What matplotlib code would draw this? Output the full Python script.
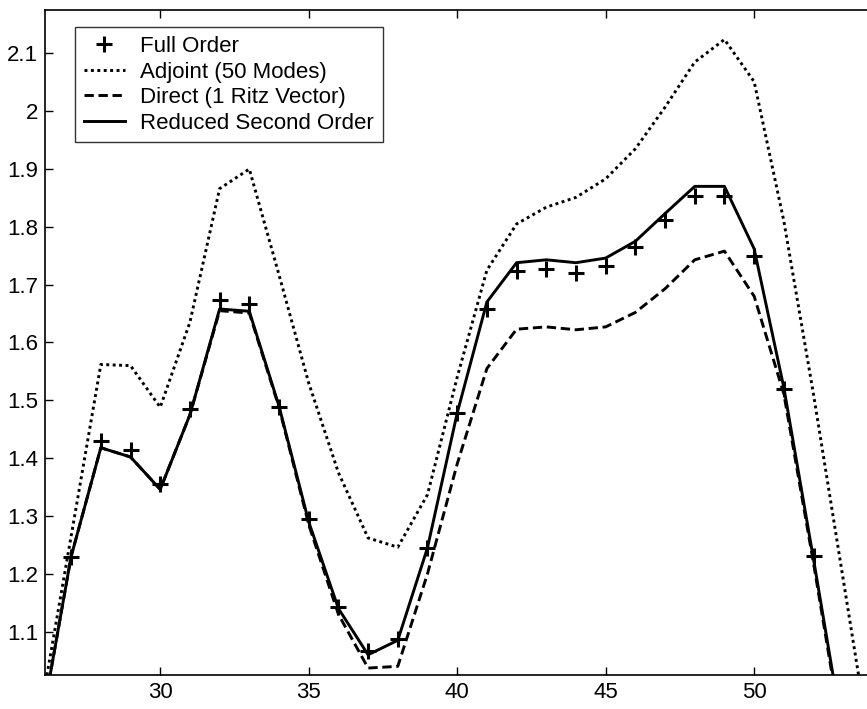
import numpy as np
import matplotlib
matplotlib.use('Agg')
import matplotlib.pyplot as plt
from matplotlib.ticker import FuncFormatter

plt.rcParams['font.family'] = ['Liberation Sans', 'DejaVu Sans']

# frequency index
x_full = np.arange(27, 53)
x_adj = np.arange(26, 55)
x_red = np.arange(26, 54)

full_order = [1.229, 1.429, 1.414, 1.356, 1.485, 1.674, 1.667, 1.488, 1.294, 1.142,
              1.067, 1.088, 1.245, 1.478, 1.658, 1.724, 1.727, 1.721, 1.732, 1.765,
              1.812, 1.854, 1.854, 1.750, 1.519, 1.230]

adjoint = [0.970, 1.265, 1.562, 1.560, 1.488, 1.635, 1.866, 1.900, 1.717, 1.530,
           1.375, 1.262, 1.246, 1.337, 1.540, 1.725, 1.805, 1.834, 1.851, 1.883,
           1.935, 2.007, 2.085, 2.124, 2.051, 1.810, 1.510, 1.190, 0.870]

direct = [0.940, 1.230, 1.418, 1.402, 1.346, 1.475, 1.655, 1.651, 1.488, 1.285,
          1.130, 1.037, 1.040, 1.200, 1.390, 1.555, 1.623, 1.627, 1.622, 1.627,
          1.652, 1.693, 1.743, 1.758, 1.680, 1.511, 1.218, 0.910]

reduced = [0.940, 1.230, 1.418, 1.402, 1.346, 1.475, 1.658, 1.654, 1.490, 1.290,
           1.140, 1.060, 1.085, 1.245, 1.478, 1.670, 1.738, 1.743, 1.738, 1.746,
           1.775, 1.823, 1.870, 1.870, 1.762, 1.522, 1.225, 0.920]

fig = plt.figure(figsize=(8.67, 7.09), dpi=100)
ax = fig.add_axes([45/867, 34/709, 822/867, 665/709])

lw = 2.1
ax.plot(x_full, full_order, linestyle='none', marker='+', color='k',
        markersize=11, markeredgewidth=2.2, label='Full Order')
ax.plot(x_adj, adjoint, color='k', lw=lw, linestyle=(0, (1, 1.2)),
        label='Adjoint (50 Modes)')
ax.plot(x_red, direct, color='k', lw=lw, linestyle=(0, (3.2, 1.6)),
        label='Direct (1 Ritz Vector)')
ax.plot(x_red, reduced, color='k', lw=lw, linestyle='-',
        label='Reduced Second Order')

ax.set_xlim(26.12, 53.8)
ax.set_ylim(1.025, 2.175)
ax.set_xticks([30, 35, 40, 45, 50])
ax.set_yticks(np.round(np.arange(1.1, 2.15, 0.1), 1))
ax.yaxis.set_major_formatter(FuncFormatter(lambda v, p: '%g' % v))

ax.tick_params(direction='in', length=6, width=1, top=True, right=False,
               labelsize=16, pad=5)
ax.spines['right'].set_visible(False)
for s in ['left', 'top', 'bottom']:
    ax.spines[s].set_linewidth(1.2)

leg = ax.legend(loc='upper left', bbox_to_anchor=(0.0365, 0.974),
                borderaxespad=0, fontsize=16, frameon=True, fancybox=False,
                edgecolor='k', handlelength=1.85, handletextpad=0.68,
                labelspacing=0.2, borderpad=0.4)
leg.get_frame().set_linewidth(1.0)

fig.savefig('out.png', dpi=100)
